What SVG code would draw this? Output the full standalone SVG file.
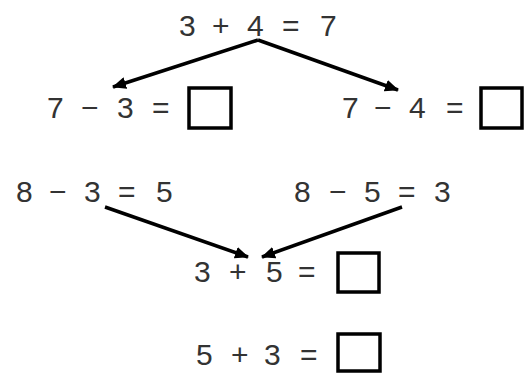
<svg xmlns="http://www.w3.org/2000/svg" width="525" height="373" viewBox="0 0 525 373">
<style>
  text { font-family: "Liberation Sans", Arial, sans-serif; font-size: 30px; fill: #333; }
  .box { fill: #fff; stroke: #000; stroke-width: 3.5; }
  .arrow { stroke: #000; stroke-width: 3.5; fill: none; marker-end: url(#ah); }
</style>
<defs>
  <marker id="ah" markerUnits="userSpaceOnUse" markerWidth="14" markerHeight="12" refX="13" refY="6" orient="auto">
    <path d="M0,0 L14,6 L0,12 z" fill="#000"/>
  </marker>
</defs>
<rect width="525" height="373" fill="#fff"/>
<g id="connectors">
  <line class="arrow" x1="258" y1="40" x2="113" y2="87"/>
  <line class="arrow" x1="258" y1="40" x2="398" y2="90"/>
  <line class="arrow" x1="105" y1="207" x2="248" y2="257"/>
  <line class="arrow" x1="402" y1="207" x2="262" y2="257"/>
</g>
<g id="eq-top">
  <text y="36"><tspan x="179">3</tspan> <tspan x="212">+</tspan> <tspan x="247">4</tspan> <tspan x="282">=</tspan> <tspan x="320">7</tspan></text>
</g>
<g id="eq-left">
  <text y="118"><tspan x="47">7</tspan> <tspan x="81">−</tspan> <tspan x="117">3</tspan> <tspan x="152">=</tspan></text>
  <rect class="box" x="189" y="88" width="42" height="40"/>
</g>
<g id="eq-right">
  <text y="118"><tspan x="342">7</tspan> <tspan x="374">−</tspan> <tspan x="409">4</tspan> <tspan x="446">=</tspan></text>
  <rect class="box" x="481" y="88" width="41" height="40"/>
</g>
<g id="eq-8-3">
  <text y="202"><tspan x="16">8</tspan> <tspan x="49">−</tspan> <tspan x="84">3</tspan> <tspan x="118">=</tspan> <tspan x="156">5</tspan></text>
</g>
<g id="eq-8-5">
  <text y="202"><tspan x="294">8</tspan> <tspan x="329">−</tspan> <tspan x="364">5</tspan> <tspan x="398">=</tspan> <tspan x="434">3</tspan></text>
</g>
<g id="eq-3-5">
  <text y="282"><tspan x="194">3</tspan> <tspan x="229">+</tspan> <tspan x="266">5</tspan> <tspan x="298">=</tspan></text>
  <rect class="box" x="338" y="253" width="41" height="39"/>
</g>
<g id="eq-5-3">
  <text y="365"><tspan x="196">5</tspan> <tspan x="231">+</tspan> <tspan x="264">3</tspan> <tspan x="300">=</tspan></text>
  <rect class="box" x="338" y="334" width="42" height="37"/>
</g>
</svg>
